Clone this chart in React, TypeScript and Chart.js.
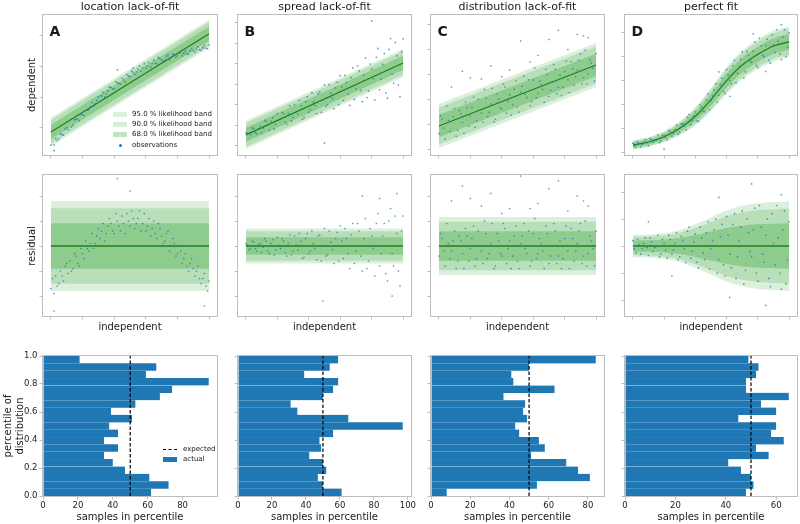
import React, { useEffect, useRef } from "react";
import { Chart, registerables } from "chart.js";
Chart.register(...registerables);

const FONT = "DejaVu Sans";
const BLUE = "#1f77b4";
const OBS_COLOR = "rgba(31,119,180,0.75)";
const FIT_COLOR = "#1f7f1f";
const BAND_RGB = "44,160,44";
const SPINE = "#bdbdbd";
const TEXT = "#1a1a1a";

const TITLES = ["location lack-of-fit", "spread lack-of-fit", "distribution lack-of-fit", "perfect fit"];
const LETTERS = ["A", "B", "C", "D"];
const BAND_LABELS = ["95.0 % likelihood band", "90.0 % likelihood band", "68.0 % likelihood band"];
const BAND_Z = [1.96, 1.645, 0.994];
const BAND_ALPHA = [0.17, 0.2, 0.3];

const X_TICKS = [0, 0.2, 0.4, 0.6, 0.8, 1.0];
const RES_TICKS = [-2, -1, 0, 1, 2];
const PCT_TICKS = [0, 0.2, 0.4, 0.6, 0.8, 1.0];

// fitted curves (dependent vs independent)
const FIT_X_LIN = [0, 1];
const FIT_A = [0.87, 4.07];
const FIT_B = [0.54, 4.05];
const FIT_C = [0.92, 3.36];
const FIT_X_D = [0, 0.1, 0.2, 0.3, 0.4, 0.5, 0.6, 0.7, 0.8, 0.9, 1.0];
const FIT_D = [0.29, 0.42, 0.64, 1.0, 1.5, 2.2, 3.0, 3.65, 4.1, 4.45, 4.62];
const ZERO_LIN = [0, 0];
const ZERO_D = [0, 0, 0, 0, 0, 0, 0, 0, 0, 0, 0];

// spread of the likelihood (1 sigma)
const SIGMA_TOP_A = [0.235, 0.235];
const SIGMA_TOP_B = [0.35, 0.35];
const SIGMA_TOP_C = [0.45, 0.45];
const SIGMA_TOP_D = [0.1, 0.105, 0.12, 0.15, 0.2, 0.25, 0.29, 0.31, 0.32, 0.33, 0.33];
const SIGMA_RES_A = [0.92, 0.92];
const SIGMA_RES_B = [0.357, 0.357];
const SIGMA_RES_C = [0.59, 0.59];
const SIGMA_RES_D = [0.21, 0.215, 0.24, 0.3, 0.41, 0.54, 0.67, 0.76, 0.81, 0.83, 0.845];

// y ranges of the upper two rows
const TOP_Y_A = { min: 0.12, max: 4.68, ticks: [1, 2, 3, 4] };
const TOP_Y_B = { min: -0.44, max: 6.39, ticks: [0, 1, 2, 3, 4, 5, 6] };
const TOP_Y_C = { min: -0.24, max: 5.36, ticks: [0, 1, 2, 3, 4, 5] };
const TOP_Y_D = { min: -0.125, max: 5.75, ticks: [0, 1, 2, 3, 4, 5] };
const RES_Y_ABC = { min: -2.8, max: 2.84, ticks: RES_TICKS };
const RES_Y_D = { min: -2.59, max: 2.63, ticks: RES_TICKS };

type Pt = [number, number];

const OBS_TOP_A: Pt[] = [
  [0.00, 0.44], [0.02, 0.45], [0.03, 0.66], [0.05, 0.65], [0.06, 0.80], [0.08, 0.77], [0.09, 0.96], [0.11, 0.94],
  [0.14, 1.09], [0.15, 1.27], [0.17, 1.30], [0.19, 1.45], [0.21, 1.41], [0.24, 1.59], [0.26, 1.83], [0.28, 1.79],
  [0.30, 2.01], [0.32, 2.05], [0.33, 2.16], [0.35, 2.12], [0.37, 2.33], [0.39, 2.27], [0.41, 2.51], [0.43, 2.45],
  [0.45, 2.62], [0.47, 2.50], [0.49, 2.70], [0.51, 2.86], [0.52, 2.95], [0.53, 2.75], [0.55, 2.91], [0.57, 2.85],
  [0.59, 3.09], [0.61, 3.02], [0.63, 2.99], [0.65, 3.21], [0.67, 3.09], [0.68, 3.30], [0.69, 3.26], [0.71, 3.17],
  [0.73, 3.34], [0.75, 3.22], [0.77, 3.41], [0.79, 3.30], [0.81, 3.46], [0.83, 3.35], [0.84, 3.44], [0.85, 3.51],
  [0.87, 3.40], [0.89, 3.59], [0.91, 3.47], [0.93, 3.64], [0.95, 3.53], [0.96, 3.62], [0.97, 3.69], [0.99, 3.58],
  [1.00, 3.71], [0.42, 2.90], [0.02, 0.27],
  [0.04, 0.59], [0.07, 0.79], [0.10, 1.01], [0.13, 1.03], [0.16, 1.28], [0.18, 1.24], [0.20, 1.43], [0.23, 1.58],
  [0.25, 1.70], [0.27, 1.71], [0.29, 1.90], [0.32, 2.05], [0.34, 2.01], [0.36, 2.22], [0.38, 2.32], [0.40, 2.28],
  [0.42, 2.47], [0.44, 2.43], [0.46, 2.57], [0.48, 2.74], [0.50, 2.67], [0.52, 2.81], [0.54, 2.83], [0.56, 3.02],
  [0.58, 2.96], [0.60, 2.94], [0.62, 3.13], [0.64, 3.10], [0.66, 3.11], [0.68, 3.28], [0.70, 3.21], [0.72, 3.22],
  [0.74, 3.39], [0.76, 3.30], [0.78, 3.39], [0.80, 3.35], [0.82, 3.44], [0.84, 3.43], [0.86, 3.42], [0.88, 3.51],
  [0.90, 3.52], [0.92, 3.56], [0.94, 3.55], [0.96, 3.61], [0.98, 3.60],
];
const OBS_RES_A: Pt[] = [
  [0.00, -1.7], [0.01, -1.3], [0.02, -1.9], [0.03, -1.2], [0.05, -1.5], [0.06, -1.0], [0.08, -1.4], [0.09, -0.8],
  [0.11, -1.1], [0.12, -0.6], [0.14, -0.9], [0.15, -0.3], [0.17, -0.7], [0.19, -0.1], [0.21, -0.5], [0.22, 0.2],
  [0.24, -0.2], [0.26, 0.5], [0.28, 0.1], [0.30, 0.7], [0.31, 0.3], [0.33, 0.9], [0.35, 0.5], [0.37, 1.1],
  [0.39, 0.6], [0.41, 1.3], [0.43, 0.8], [0.45, 1.2], [0.47, 0.5], [0.49, 1.0], [0.51, 1.4], [0.53, 0.7],
  [0.55, 1.1], [0.57, 0.6], [0.59, 1.3], [0.61, 0.8], [0.63, 0.4], [0.65, 1.0], [0.67, 0.3], [0.69, 0.7],
  [0.71, 0.1], [0.73, 0.5], [0.75, -0.2], [0.77, 0.3], [0.79, -0.4], [0.81, 0.0], [0.83, -0.7], [0.85, -0.3],
  [0.87, -1.0], [0.89, -0.5], [0.91, -1.2], [0.93, -0.8], [0.95, -1.5], [0.97, -1.1], [0.99, -1.8], [1.00, -1.4],
  [0.42, 2.7], [0.50, 2.2], [0.02, -2.6], [0.97, -2.4],
  [0.04, -1.6], [0.07, -1.2], [0.10, -0.7], [0.13, -1.0], [0.16, -0.4], [0.18, -0.8], [0.20, -0.3], [0.23, -0.1],
  [0.25, 0.1], [0.27, -0.1], [0.29, 0.4], [0.32, 0.6], [0.34, 0.2], [0.36, 0.8], [0.38, 0.9], [0.40, 0.5],
  [0.42, 1.0], [0.44, 0.6], [0.46, 0.9], [0.48, 1.3], [0.50, 0.8], [0.52, 1.1], [0.54, 0.9], [0.56, 1.4],
  [0.58, 0.9], [0.60, 0.6], [0.62, 1.1], [0.64, 0.7], [0.66, 0.5], [0.68, 0.9], [0.70, 0.4], [0.72, 0.2],
  [0.74, 0.6], [0.76, 0.0], [0.78, 0.1], [0.80, -0.3], [0.82, -0.2], [0.84, -0.5], [0.86, -0.8], [0.88, -0.7],
  [0.90, -0.9], [0.92, -1.0], [0.94, -1.3], [0.96, -1.3], [0.98, -1.6],
];
const OBS_TOP_B: Pt[] = [
  [0.00, 0.64], [0.04, 0.88], [0.06, 0.65], [0.10, 0.64], [0.12, 1.25], [0.16, 1.2], [0.18, 0.83], [0.20, 1.58],
  [0.24, 1.58], [0.26, 1.06], [0.28, 1.96], [0.30, 1.39], [0.34, 2.22], [0.36, 1.31], [0.38, 2.16], [0.40, 1.65],
  [0.42, 2.6], [0.44, 1.98], [0.46, 2.54], [0.48, 1.64], [0.50, 2.98], [0.52, 2.02], [0.54, 2.59], [0.56, 1.82],
  [0.58, 3.12], [0.60, 3.43], [0.62, 2.23], [0.64, 3.08], [0.66, 1.98], [0.68, 3.81], [0.70, 2.8], [0.72, 3.66],
  [0.74, 2.16], [0.76, 4.29], [0.78, 2.69], [0.80, 3.74], [0.82, 2.24], [0.84, 4.76], [0.86, 3.27], [0.88, 4.51],
  [0.90, 2.33], [0.92, 5.24], [0.94, 3.06], [0.96, 4.4], [0.98, 2.41], [1.00, 5.23], [0.80, 6.1], [0.50, 0.15],
  [0.01, 0.63], [0.03, 0.55], [0.05, 0.86], [0.07, 0.59], [0.09, 0.96], [0.11, 0.88], [0.13, 1.19], [0.15, 0.77],
  [0.17, 1.38], [0.19, 1.06], [0.21, 1.28], [0.23, 1.64], [0.25, 1.17], [0.27, 1.59], [0.29, 1.22], [0.31, 2.02],
  [0.33, 1.55], [0.35, 1.97], [0.37, 1.40], [0.39, 2.40], [0.41, 1.78], [0.43, 2.15], [0.45, 1.58], [0.47, 2.63],
  [0.49, 2.26], [0.51, 1.94], [0.53, 2.99], [0.55, 2.32], [0.57, 2.83], [0.59, 2.02], [0.61, 2.88], [0.63, 3.44],
  [0.65, 2.53], [0.67, 3.33], [0.69, 2.27], [0.71, 3.91], [0.73, 2.71], [0.75, 3.46], [0.77, 2.36], [0.79, 4.0],
  [0.81, 3.28], [0.83, 4.33], [0.85, 2.74], [0.87, 3.98], [0.89, 2.58], [0.91, 4.71], [0.93, 3.51], [0.95, 5.05],
  [0.97, 2.97], [0.99, 4.6],
];
const OBS_RES_B: Pt[] = [
  [0.00, 0.1], [0.02, -0.15], [0.04, 0.2], [0.06, -0.1], [0.08, 0.05], [0.10, -0.25], [0.12, 0.3], [0.14, -0.2],
  [0.16, 0.1], [0.18, -0.35], [0.20, 0.35], [0.22, -0.1], [0.24, 0.2], [0.26, -0.4], [0.28, 0.45], [0.30, -0.2],
  [0.32, 0.05], [0.34, 0.5], [0.36, -0.5], [0.38, 0.3], [0.40, -0.3], [0.42, 0.6], [0.44, -0.1], [0.46, 0.4],
  [0.48, -0.6], [0.50, 0.7], [0.52, -0.35], [0.54, 0.15], [0.56, -0.7], [0.58, 0.55], [0.60, 0.8], [0.62, -0.5],
  [0.64, 0.3], [0.66, -0.9], [0.68, 0.9], [0.70, -0.2], [0.72, 0.6], [0.74, -1.0], [0.76, 1.1], [0.78, -0.6],
  [0.80, 0.4], [0.82, -1.2], [0.84, 1.3], [0.86, -0.3], [0.88, 0.9], [0.90, -1.4], [0.92, 1.5], [0.94, -0.8],
  [0.96, 0.5], [0.98, -1.6], [1.00, 1.2], [0.74, 2.0], [0.85, 1.9], [0.96, 2.1], [0.49, -2.2], [0.93, -2.0],
  [0.01, 0.05], [0.03, -0.1], [0.05, 0.15], [0.07, -0.2], [0.09, 0.1], [0.11, -0.05], [0.13, 0.2], [0.15, -0.3],
  [0.17, 0.25], [0.19, -0.15], [0.21, 0.0], [0.23, 0.3], [0.25, -0.25], [0.27, 0.1], [0.29, -0.35], [0.31, 0.4],
  [0.33, -0.15], [0.35, 0.2], [0.37, -0.45], [0.39, 0.5], [0.41, -0.2], [0.43, 0.1], [0.45, -0.55], [0.47, 0.45],
  [0.49, 0.0], [0.51, -0.4], [0.53, 0.6], [0.55, -0.15], [0.57, 0.3], [0.59, -0.6], [0.61, 0.2], [0.63, 0.7],
  [0.65, -0.3], [0.67, 0.45], [0.69, -0.7], [0.71, 0.9], [0.73, -0.4], [0.75, 0.3], [0.77, -0.9], [0.79, 0.7],
  [0.81, -0.1], [0.83, 0.9], [0.85, -0.8], [0.87, 0.4], [0.89, -1.1], [0.91, 1.0], [0.93, -0.3], [0.95, 1.2],
  [0.97, -1.0], [0.99, 0.6],
];
const OBS_TOP_C: Pt[] = [
  [0.00, 0.62], [0.02, 1.2], [0.04, 0.41], [0.06, 1.15], [0.10, 1.62], [0.12, 0.75], [0.14, 1.41], [0.16, 0.63],
  [0.18, 1.66], [0.20, 1.33], [0.22, 2.07], [0.24, 1.13], [0.28, 1.07], [0.30, 2.03], [0.32, 1.47], [0.34, 2.43],
  [0.36, 1.19], [0.38, 2.0], [0.40, 1.6], [0.42, 2.48], [0.44, 1.92], [0.46, 1.36], [0.48, 2.39], [0.50, 1.68],
  [0.52, 2.27], [0.54, 2.92], [0.56, 2.06], [0.58, 1.73], [0.60, 2.76], [0.62, 2.05], [0.64, 2.71], [0.66, 2.38],
  [0.68, 3.19], [0.70, 2.1], [0.72, 2.68], [0.74, 3.19], [0.76, 2.47], [0.78, 2.14], [0.80, 3.1], [0.82, 2.77],
  [0.84, 3.5], [0.86, 2.56], [0.88, 3.15], [0.90, 3.8], [0.92, 2.86], [0.94, 2.6], [0.96, 3.56], [0.98, 3.23],
  [1.00, 3.82], [0.08, 2.48], [0.15, 3.11], [0.27, 2.8], [0.33, 3.33], [0.45, 3.16], [0.52, 4.32], [0.63, 3.75],
  [0.70, 4.38], [0.82, 3.98], [0.88, 4.59], [0.95, 4.46], [0.40, 2.89],
  [0.01, 1.32], [0.03, 0.84], [0.05, 1.72], [0.07, 0.71], [0.09, 1.29], [0.11, 0.51], [0.13, 1.54], [0.15, 1.06],
  [0.17, 1.87], [0.19, 0.92], [0.21, 1.66], [0.23, 0.87], [0.25, 1.99], [0.27, 1.43], [0.29, 2.39], [0.31, 1.30],
  [0.33, 1.80], [0.35, 1.09], [0.37, 2.20], [0.39, 1.64], [0.41, 2.60], [0.43, 1.44], [0.45, 2.17], [0.47, 1.76],
  [0.49, 2.72], [0.51, 1.48], [0.53, 2.51], [0.55, 2.19], [0.57, 2.77], [0.59, 1.90], [0.61, 3.25], [0.63, 2.23],
  [0.65, 2.58], [0.67, 1.87], [0.69, 2.98], [0.71, 2.35], [0.73, 3.38], [0.75, 2.22], [0.77, 2.95], [0.79, 2.47],
  [0.81, 3.51], [0.83, 2.26], [0.85, 3.22], [0.87, 2.89], [0.89, 3.55], [0.91, 2.61], [0.93, 3.95], [0.95, 3.01],
  [0.97, 3.44], [0.99, 2.73], [0.20, 2.85], [0.58, 3.48], [0.76, 4.75], [0.92, 4.53],
];
const OBS_RES_C: Pt[] = [
  [0.00, -0.4], [0.02, 0.3], [0.04, -0.8], [0.06, 0.1], [0.08, -0.2], [0.10, 0.6], [0.12, -0.6], [0.14, 0.2],
  [0.16, -0.9], [0.18, 0.4], [0.20, -0.1], [0.22, 0.8], [0.24, -0.5], [0.26, 0.0], [0.28, -0.7], [0.30, 0.5],
  [0.32, -0.3], [0.34, 0.9], [0.36, -0.8], [0.38, 0.2], [0.40, -0.4], [0.42, 0.7], [0.44, -0.1], [0.46, -0.9],
  [0.48, 0.4], [0.50, -0.6], [0.52, 0.1], [0.54, 0.9], [0.56, -0.3], [0.58, -0.8], [0.60, 0.5], [0.62, -0.5],
  [0.64, 0.3], [0.66, -0.2], [0.68, 0.8], [0.70, -0.7], [0.72, 0.0], [0.74, 0.6], [0.76, -0.4], [0.78, -0.9],
  [0.80, 0.3], [0.82, -0.2], [0.84, 0.7], [0.86, -0.6], [0.88, 0.1], [0.90, 0.9], [0.92, -0.4], [0.94, -0.8],
  [0.96, 0.4], [0.98, -0.1], [1.00, 0.6], [0.08, 1.8], [0.15, 2.4], [0.27, 1.6], [0.33, 2.1], [0.45, 1.5],
  [0.52, 2.8], [0.63, 1.7], [0.70, 2.3], [0.82, 1.4], [0.88, 2.0], [0.95, 1.6], [0.40, 1.3],
  [0.01, 0.5], [0.03, -0.2], [0.05, 0.9], [0.07, -0.5], [0.09, 0.2], [0.11, -0.9], [0.13, 0.4], [0.15, -0.3],
  [0.17, 0.7], [0.19, -0.6], [0.21, 0.3], [0.23, -0.8], [0.25, 0.6], [0.27, -0.2], [0.29, 1.0], [0.31, -0.5],
  [0.33, 0.1], [0.35, -0.9], [0.37, 0.5], [0.39, -0.3], [0.41, 0.9], [0.43, -0.7], [0.45, 0.2], [0.47, -0.4],
  [0.49, 0.8], [0.51, -0.9], [0.53, 0.4], [0.55, -0.1], [0.57, 0.6], [0.59, -0.6], [0.61, 1.1], [0.63, -0.3],
  [0.65, 0.1], [0.67, -0.9], [0.69, 0.5], [0.71, -0.4], [0.73, 0.9], [0.75, -0.7], [0.77, 0.2], [0.79, -0.5],
  [0.81, 0.8], [0.83, -0.9], [0.85, 0.3], [0.87, -0.2], [0.89, 0.6], [0.91, -0.7], [0.93, 1.0], [0.95, -0.3],
  [0.97, 0.2], [0.99, -0.8], [0.20, 1.9], [0.58, 1.5], [0.76, 2.6], [0.92, 1.8],
];
const OBS_TOP_D: Pt[] = [
  [0.00, 0.37], [0.02, 0.21], [0.04, 0.36], [0.06, 0.32], [0.08, 0.52], [0.10, 0.27], [0.12, 0.52], [0.14, 0.48],
  [0.16, 0.72], [0.18, 0.46], [0.20, 0.68], [0.22, 0.51], [0.24, 0.87], [0.26, 0.78], [0.28, 1.13], [0.30, 0.83],
  [0.32, 1.17], [0.34, 0.93], [0.36, 1.57], [0.38, 1.31], [0.40, 1.69], [0.42, 1.29], [0.44, 1.89], [0.46, 1.69],
  [0.48, 2.43], [0.50, 2.16], [0.52, 2.61], [0.54, 2.1], [0.56, 2.83], [0.58, 2.55], [0.60, 3.46], [0.62, 3.01],
  [0.64, 3.62], [0.66, 2.91], [0.68, 3.61], [0.70, 4.2], [0.72, 3.37], [0.74, 4.06], [0.76, 3.77], [0.78, 4.61],
  [0.80, 3.55], [0.82, 4.46], [0.84, 3.99], [0.86, 4.73], [0.88, 3.74], [0.90, 4.49], [0.92, 5.13], [0.94, 4.12],
  [0.96, 4.82], [0.98, 4.01], [1.00, 5.0], [0.55, 3.36], [0.77, 4.96], [0.85, 3.38], [0.62, 2.34], [0.95, 5.35],
  [0.20, 0.12],
  [0.01, 0.26], [0.03, 0.43], [0.05, 0.22], [0.07, 0.42], [0.09, 0.39], [0.11, 0.57], [0.13, 0.40], [0.15, 0.52],
  [0.17, 0.40], [0.19, 0.71], [0.21, 0.61], [0.23, 0.91], [0.25, 0.67], [0.27, 0.93], [0.29, 0.75], [0.31, 1.19],
  [0.33, 1.09], [0.35, 1.46], [0.37, 1.15], [0.39, 1.51], [0.41, 1.31], [0.43, 1.98], [0.45, 1.72], [0.47, 2.19],
  [0.49, 1.77], [0.51, 2.36], [0.53, 2.86], [0.55, 2.39], [0.57, 3.10], [0.59, 2.46], [0.61, 3.24], [0.63, 2.86],
  [0.65, 3.85], [0.67, 3.30], [0.69, 3.89], [0.71, 3.11], [0.73, 4.22], [0.75, 3.82], [0.77, 4.23], [0.79, 3.64],
  [0.81, 4.77], [0.83, 4.07], [0.85, 4.47], [0.87, 3.85], [0.89, 4.92], [0.91, 4.18], [0.93, 4.64], [0.95, 3.88],
  [0.97, 5.13], [0.99, 4.40],
];
const OBS_RES_D: Pt[] = [
  [0.00, 0.2], [0.02, -0.25], [0.04, 0.05], [0.06, -0.1], [0.08, 0.3], [0.10, -0.35], [0.12, 0.15], [0.14, -0.05],
  [0.16, 0.4], [0.18, -0.3], [0.20, 0.1], [0.22, -0.45], [0.24, 0.25], [0.26, -0.15], [0.28, 0.5], [0.30, -0.4],
  [0.32, 0.2], [0.34, -0.6], [0.36, 0.7], [0.38, -0.2], [0.40, 0.45], [0.42, -0.8], [0.44, 0.3], [0.46, -0.5],
  [0.48, 0.9], [0.50, -0.1], [0.52, 0.6], [0.54, -1.0], [0.56, 0.35], [0.58, -0.7], [0.60, 1.1], [0.62, -0.3],
  [0.64, 0.8], [0.66, -1.2], [0.68, 0.2], [0.70, 1.3], [0.72, -0.9], [0.74, 0.5], [0.76, -0.4], [0.78, 1.4],
  [0.80, -1.3], [0.82, 0.7], [0.84, -0.6], [0.86, 1.0], [0.88, -1.5], [0.90, 0.1], [0.92, 1.5], [0.94, -1.0],
  [0.96, 0.6], [0.98, -1.4], [1.00, 0.9], [0.10, 0.9], [0.25, -1.1], [0.55, 1.8], [0.76, 2.3], [0.85, -2.2],
  [0.62, -1.9], [0.95, 1.9],
  [0.01, -0.1], [0.03, 0.25], [0.05, -0.3], [0.07, 0.1], [0.09, -0.05], [0.11, 0.3], [0.13, -0.2], [0.15, 0.0],
  [0.17, -0.4], [0.19, 0.25], [0.21, -0.15], [0.23, 0.4], [0.25, -0.3], [0.27, 0.1], [0.29, -0.5], [0.31, 0.35],
  [0.33, -0.1], [0.35, 0.55], [0.37, -0.45], [0.39, 0.15], [0.41, -0.6], [0.43, 0.7], [0.45, -0.25], [0.47, 0.5],
  [0.49, -0.85], [0.51, 0.2], [0.53, 1.0], [0.55, -0.5], [0.57, 0.8], [0.59, -1.1], [0.61, 0.4], [0.63, -0.8],
  [0.65, 1.2], [0.67, -0.4], [0.69, 0.7], [0.71, -1.4], [0.73, 1.0], [0.75, -0.2], [0.77, 0.6], [0.79, -1.0],
  [0.81, 1.5], [0.83, -0.3], [0.85, 0.4], [0.87, -1.2], [0.89, 1.2], [0.91, -0.7], [0.93, 0.3], [0.95, -1.6],
  [0.97, 1.3], [0.99, -0.5],
];

// histogram of observation percentiles (19 bins from 0 to 1, bottom to top)
const PCT_BIN_COUNT = 19;
const HIST_A = [62, 72, 61, 47, 40, 35, 43, 35, 43, 38, 51, 39, 53, 67, 74, 95, 59, 65, 21];
const HIST_B = [61, 50, 47, 52, 50, 42, 49, 48, 56, 97, 65, 35, 31, 50, 56, 59, 39, 54, 59];
const HIST_C = [8, 54, 81, 75, 69, 51, 58, 55, 45, 43, 49, 47, 48, 37, 63, 42, 41, 50, 84];
const HIST_D = [48, 51, 50, 46, 41, 57, 52, 63, 58, 60, 45, 60, 54, 65, 48, 48, 52, 53, 49];
const EXPECTED = 50;
const HIST_MAX = [99.75, 101.85, 88.2, 68.25];
const HIST_TICKS = [[0, 20, 40, 60, 80], [0, 20, 40, 60, 80, 100], [0, 20, 40, 60, 80], [0, 20, 40, 60]];

// layout
const COL_X = [43, 238, 431, 625];
const COL_W = [174, 173, 173, 172];
const ROW_Y = [15, 175, 356];
const ROW_H = [140, 141, 140];
const ML = 40, MR = 8, MT = 8, MB = 24;

const framePlugin = {
  id: "frame",
  afterDraw(chart: any) {
    const { ctx, chartArea: a } = chart;
    ctx.save();
    ctx.strokeStyle = SPINE;
    ctx.lineWidth = 1;
    const l = Math.round(a.left), t = Math.round(a.top), r = Math.round(a.right), b = Math.round(a.bottom);
    ctx.strokeRect(l - 0.5, t - 0.5, r - l + 1, b - t + 1);
    ctx.restore();
  },
};

function axis(min: number, max: number, ticks: number[], showLabels: boolean, isX: boolean, fmt?: (v: number) => string) {
  return {
    type: "linear",
    position: isX ? "bottom" : "left",
    min,
    max,
    offset: false,
    afterBuildTicks: (s: any) => {
      s.ticks = ticks.map((value) => ({ value }));
    },
    afterFit: (s: any) => {
      if (isX) s.height = MB;
      else s.width = ML;
      s.paddingLeft = 0;
      s.paddingRight = 0;
      s.paddingTop = 0;
      s.paddingBottom = 0;
    },
    ticks: {
      display: showLabels,
      autoSkip: false,
      maxRotation: 0,
      padding: isX ? 1 : 2,
      color: "#222",
      font: { family: FONT, size: 8.5 },
      callback: (v: any) => (fmt ? fmt(Number(v)) : String(v)),
    },
    grid: { display: true, drawOnChartArea: false, drawTicks: true, tickLength: 3.5, color: SPINE, offset: false },
    border: { display: false },
  };
}

const baseOptions = {
  responsive: false,
  animation: false,
  devicePixelRatio: 1,
  layout: { padding: { left: 0, right: MR, top: MT, bottom: 0 }, autoPadding: false },
  plugins: { legend: { display: false }, tooltip: { enabled: false } },
};

function bandConfig(fitX: number[], fit: number[], sigma: number[], obs: Pt[], yr: any, lineWidth: number) {
  const datasets: any[] = [
    {
      data: obs.map(([x, y]) => ({ x, y })),
      showLine: false,
      pointRadius: 0.85,
      pointBackgroundColor: OBS_COLOR,
      pointBorderWidth: 0,
    },
    {
      data: fitX.map((x, i) => ({ x, y: fit[i] })),
      showLine: true,
      borderColor: FIT_COLOR,
      borderWidth: lineWidth,
      pointRadius: 0,
      cubicInterpolationMode: "monotone",
      fill: false,
    },
  ];
  for (let k = BAND_Z.length - 1; k >= 0; k--) {
    const z = BAND_Z[k];
    datasets.push({
      data: fitX.map((x, i) => ({ x, y: fit[i] + z * sigma[i] })),
      showLine: true,
      borderWidth: 0,
      borderColor: "rgba(0,0,0,0)",
      pointRadius: 0,
      cubicInterpolationMode: "monotone",
      fill: "+1",
      backgroundColor: `rgba(${BAND_RGB},${BAND_ALPHA[k]})`,
    });
    datasets.push({
      data: fitX.map((x, i) => ({ x, y: fit[i] - z * sigma[i] })),
      showLine: true,
      borderWidth: 0,
      borderColor: "rgba(0,0,0,0)",
      pointRadius: 0,
      cubicInterpolationMode: "monotone",
      fill: false,
    });
  }
  return {
    type: "scatter",
    data: { datasets },
    options: {
      ...baseOptions,
      scales: {
        x: axis(-0.05, 1.05, X_TICKS, false, true),
        y: axis(yr.min, yr.max, yr.ticks, false, false),
      },
    },
    plugins: [framePlugin],
  };
}

function histConfig(counts: number[], max: number, xTicks: number[], showY: boolean) {
  const centers = counts.map((_, i) => (i + 0.5) / PCT_BIN_COUNT);
  return {
    type: "bar",
    data: {
      datasets: [
        {
          type: "line",
          data: [{ x: EXPECTED, y: 0 }, { x: EXPECTED, y: 1 }],
          borderColor: "#000",
          borderWidth: 1.2,
          borderDash: [3.5, 2],
          pointRadius: 0,
          fill: false,
        },
        {
          data: counts.map((c, i) => ({ x: c, y: centers[i] })),
          backgroundColor: BLUE,
          borderColor: "rgba(255,255,255,0.25)",
          borderWidth: { top: 0.25, bottom: 0.25, left: 0, right: 0 },
          borderSkipped: false,
          barPercentage: 1,
          categoryPercentage: 1,
        },
      ],
    },
    options: {
      ...baseOptions,
      indexAxis: "y",
      scales: {
        x: axis(0, max, xTicks, true, true),
        y: axis(0, 1, PCT_TICKS, showY, false, (v) => v.toFixed(1)),
      },
    },
    plugins: [framePlugin],
  };
}

function Panel({ col, row, config }: { col: number; row: number; config: any }) {
  const ref = useRef<HTMLCanvasElement>(null);
  useEffect(() => {
    const chart = new Chart(ref.current as HTMLCanvasElement, config);
    return () => chart.destroy();
  }, []);
  const W = COL_W[col] + ML + MR;
  const H = ROW_H[row] + MT + MB;
  return (
    <canvas
      ref={ref}
      width={W}
      height={H}
      style={{ position: "absolute", left: COL_X[col] - ML, top: ROW_Y[row] - MT, width: W, height: H }}
    />
  );
}

function Txt(props: { x: number; y: number; size: number; bold?: boolean; rot?: boolean; left?: boolean; children: any }) {
  const { x, y, size, bold, rot, left, children } = props;
  return (
    <div
      style={{
        position: "absolute",
        left: x,
        top: y,
        transform: `translate(${left ? "0" : "-50%"}, -50%)${rot ? " rotate(-90deg)" : ""}`,
        fontFamily: FONT,
        fontSize: size,
        fontWeight: bold ? "bold" : "normal",
        color: TEXT,
        whiteSpace: "pre",
        lineHeight: 1.15,
        textAlign: "center",
      }}
    >
      {children}
    </div>
  );
}

export default function App() {
  const tops = [
    bandConfig(FIT_X_LIN, FIT_A, SIGMA_TOP_A, OBS_TOP_A, TOP_Y_A, 1.2),
    bandConfig(FIT_X_LIN, FIT_B, SIGMA_TOP_B, OBS_TOP_B, TOP_Y_B, 1.2),
    bandConfig(FIT_X_LIN, FIT_C, SIGMA_TOP_C, OBS_TOP_C, TOP_Y_C, 1.2),
    bandConfig(FIT_X_D, FIT_D, SIGMA_TOP_D, OBS_TOP_D, TOP_Y_D, 1.2),
  ];
  const mids = [
    bandConfig(FIT_X_LIN, ZERO_LIN, SIGMA_RES_A, OBS_RES_A, RES_Y_ABC, 1.6),
    bandConfig(FIT_X_LIN, ZERO_LIN, SIGMA_RES_B, OBS_RES_B, RES_Y_ABC, 1.6),
    bandConfig(FIT_X_LIN, ZERO_LIN, SIGMA_RES_C, OBS_RES_C, RES_Y_ABC, 1.6),
    bandConfig(FIT_X_D, ZERO_D, SIGMA_RES_D, OBS_RES_D, RES_Y_D, 1.6),
  ];
  const hists = [HIST_A, HIST_B, HIST_C, HIST_D].map((h, i) => histConfig(h, HIST_MAX[i], HIST_TICKS[i], i === 0));
  const cx = (c: number) => COL_X[c] + COL_W[c] / 2;
  const legendRowsY = [114, 124, 134];

  return (
    <div style={{ position: "fixed", left: 0, top: 0, width: 800, height: 524, background: "#fff", overflow: "hidden" }}>
      {tops.map((cfg, i) => (
        <Panel key={"t" + i} col={i} row={0} config={cfg} />
      ))}
      {mids.map((cfg, i) => (
        <Panel key={"m" + i} col={i} row={1} config={cfg} />
      ))}
      {hists.map((cfg, i) => (
        <Panel key={"h" + i} col={i} row={2} config={cfg} />
      ))}

      {TITLES.map((t, i) => (
        <Txt key={"ti" + i} x={cx(i)} y={6.8} size={11}>{t}</Txt>
      ))}
      {LETTERS.map((t, i) => (
        <Txt key={"le" + i} x={COL_X[i] + 6.5} y={31} size={14} bold left>{t}</Txt>
      ))}
      {[0, 1, 2, 3].map((i) => (
        <Txt key={"ind" + i} x={cx(i)} y={327} size={10}>independent</Txt>
      ))}
      {[0, 1, 2, 3].map((i) => (
        <Txt key={"sp" + i} x={cx(i)} y={516.5} size={10}>samples in percentile</Txt>
      ))}
      <Txt x={31.5} y={85} size={10} rot>dependent</Txt>
      <Txt x={31.5} y={245.5} size={10} rot>residual</Txt>
      <Txt x={12.5} y={426} size={10} rot>{"percentile of\ndistribution"}</Txt>

      {/* legend of panel A */}
      {BAND_LABELS.map((lab, i) => (
        <React.Fragment key={"bl" + i}>
          <div
            style={{
              position: "absolute",
              left: 113,
              top: legendRowsY[i] - 2.5,
              width: 14,
              height: 5,
              background: `rgba(${BAND_RGB},${BAND_ALPHA[i]})`,
            }}
          />
          <Txt x={132} y={legendRowsY[i]} size={7} left>{lab}</Txt>
        </React.Fragment>
      ))}
      <div
        style={{ position: "absolute", left: 118.5, top: 143.5, width: 3, height: 3, borderRadius: 2, background: BLUE }}
      />
      <Txt x={132} y={145} size={7} left>observations</Txt>

      {/* legend of histogram A */}
      <div style={{ position: "absolute", left: 163, top: 448.5, width: 14, height: 0, borderTop: "1.2px dashed #000" }} />
      <Txt x={183} y={449.3} size={7} left>expected</Txt>
      <div style={{ position: "absolute", left: 163, top: 456.7, width: 14, height: 5.3, background: BLUE }} />
      <Txt x={183} y={459.3} size={7} left>actual</Txt>
    </div>
  );
}
